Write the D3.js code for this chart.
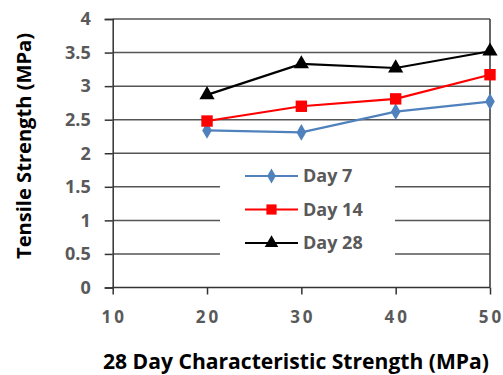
<!DOCTYPE html>
<html>
<head>
<meta charset="utf-8">
<script src="https://cdn.jsdelivr.net/npm/d3@7"></script>
<style>
  body { margin: 0; background: #fff; }
  svg text { font-family: "Open Sans", Lato, sans-serif; font-weight: bold; }
</style>
</head>
<body>
<svg id="chart" width="503" height="375"></svg>
<script>
const strengths = [20, 30, 40, 50];
const day7 = [2.34, 2.31, 2.62, 2.77];
const day14 = [2.48, 2.70, 2.81, 3.17];
const day28 = [2.87, 3.33, 3.27, 3.52];
const xTicks = [10, 20, 30, 40, 50];
const yTicks = [0, 0.5, 1, 1.5, 2, 2.5, 3, 3.5, 4];

const series = [
  {name: 'Day 7', values: day7, color: '#4F81BD', symbol: d3.symbolDiamond, size: 80},
  {name: 'Day 14', values: day14, color: '#FF0000', symbol: d3.symbolSquare, size: 130},
  {name: 'Day 28', values: day28, color: '#000000', symbol: d3.symbolTriangle, size: 100}
];

const svg = d3.select('#chart');
const x = d3.scaleLinear().domain([10, 50]).range([112.7, 490]);
const y = d3.scaleLinear().domain([0, 4]).range([287.5, 19]);

// gridlines
svg.append('g')
  .selectAll('line')
  .data(yTicks.filter(d => d > 0))
  .enter()
  .append('line')
  .attr('x1', x(10)).attr('x2', x(50))
  .attr('y1', d => y(d)).attr('y2', d => y(d))
  .attr('stroke', '#555')
  .attr('stroke-width', 1.5)
;

// right border
svg.append('line')
  .attr('x1', x(50)).attr('x2', x(50))
  .attr('y1', y(4)).attr('y2', y(0))
  .attr('stroke', '#333').attr('stroke-width', 1.5);

// y axis
const yAxis = svg.append('g')
  .attr('transform', `translate(${x(10)},0)`)
  .call(d3.axisLeft(y).tickValues(yTicks).tickSize(8).tickPadding(14).tickFormat(d3.format('')));
yAxis.select('.domain').attr('stroke', '#333').attr('stroke-width', 1.5);
yAxis.selectAll('.tick line').attr('stroke', '#333').attr('stroke-width', 1.5);
yAxis.selectAll('text')
  .attr('fill', '#595959')
  .style('font-size', '18px')
  .style('font-family', '"Open Sans", sans-serif')
  .style('font-weight', 'bold');

// x axis
const xAxis = svg.append('g')
  .attr('transform', `translate(0,${y(0)})`)
  .call(d3.axisBottom(x).tickValues(xTicks).tickSize(7).tickPadding(22));
xAxis.select('.domain').attr('stroke', '#333').attr('stroke-width', 1.5).attr('d', `M${x(10)},0H${x(50)}`);
xAxis.selectAll('.tick line').attr('stroke', '#333').attr('stroke-width', 1.5);
xAxis.selectAll('text')
  .attr('fill', '#595959')
  .attr('dy', '0.4em')
  .attr('dx', '1px')
  .style('font-size', '17px')
  .style('letter-spacing', '3px')
  .style('font-family', '"Open Sans", sans-serif')
  .style('font-weight', 'bold');

// series
const line = d3.line().x((d, i) => x(strengths[i])).y(d => y(d));
series.forEach(s => {
  svg.append('path')
    .datum(s.values)
    .attr('d', line)
    .attr('fill', 'none')
    .attr('stroke', s.color)
    .attr('stroke-width', 2.2);
  svg.append('g')
    .selectAll('path')
    .data(s.values)
    .enter()
    .append('path')
    .attr('transform', (d, i) => `translate(${x(strengths[i])},${y(d)})`)
    .attr('d', d3.symbol().type(s.symbol).size(s.size))
    .attr('fill', s.color);
});

// legend
const legend = svg.append('g');
legend.append('rect')
  .attr('x', 220).attr('y', 160).attr('width', 175).attr('height', 108)
  .attr('fill', '#fff');
series.forEach((s, i) => {
  const ly = 176 + i * 33.5;
  legend.append('line')
    .attr('x1', 245).attr('x2', 298)
    .attr('y1', ly).attr('y2', ly)
    .attr('stroke', s.color).attr('stroke-width', 2.2);
  legend.append('path')
    .attr('transform', `translate(271.5,${ly})`)
    .attr('d', d3.symbol().type(s.symbol).size(s.size * 0.8))
    .attr('fill', s.color);
  legend.append('text')
    .attr('x', 303).attr('y', ly)
    .attr('dy', '0.36em')
    .attr('fill', '#595959')
    .style('font-size', '18px')
    .text(s.name);
});

// axis titles
svg.append('text')
  .attr('transform', 'translate(31,146) rotate(-90)')
  .attr('text-anchor', 'middle')
  .attr('fill', '#000')
  .attr('textLength', 226)
  .attr('lengthAdjust', 'spacingAndGlyphs')
  .style('font-size', '20px')
  .text('Tensile Strength (MPa)');

svg.append('text')
  .attr('x', 296).attr('y', 369)
  .attr('text-anchor', 'middle')
  .attr('fill', '#000')
  .attr('textLength', 386)
  .attr('lengthAdjust', 'spacingAndGlyphs')
  .style('font-size', '21px')
  .text('28 Day Characteristic Strength (MPa)');
</script>
</body>
</html>
